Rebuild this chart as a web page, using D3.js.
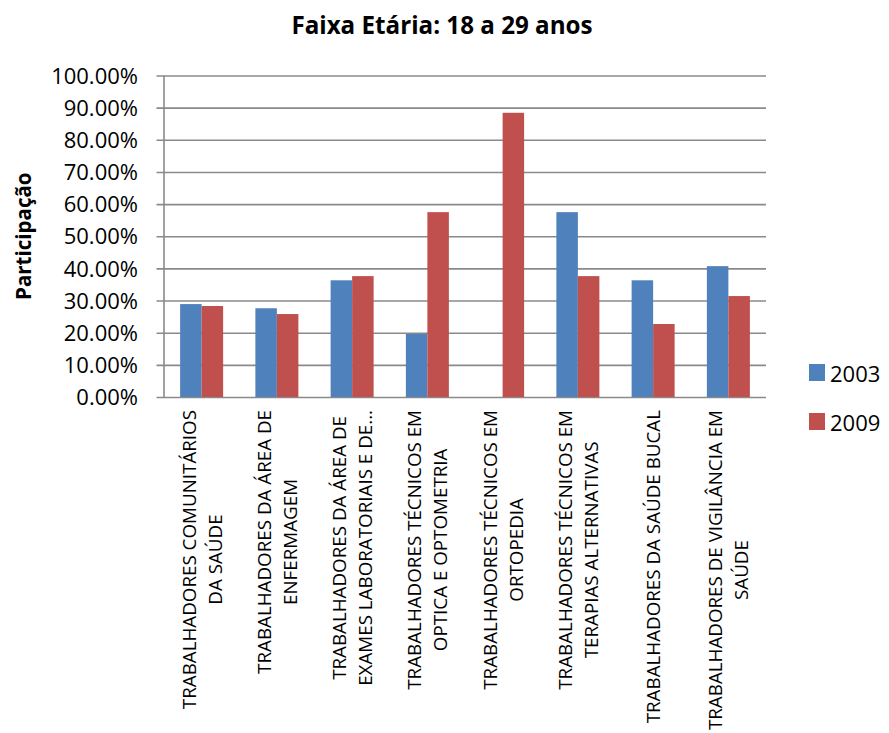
<!DOCTYPE html>
<html>
<head>
<meta charset="utf-8">
<script src="https://cdn.jsdelivr.net/npm/d3@7"></script>
<style>
  html, body { margin: 0; padding: 0; background: #fff; }
  svg { display: block; }
  text { font-family: "Open Sans", "Noto Sans", sans-serif; fill: #000; }
</style>
</head>
<body>
<svg id="chart" width="889" height="733"></svg>
<script>
const title = "Faixa Etária: 18 a 29 anos";
const yAxisTitle = "Participação";
const categories = [
  "TRABALHADORES COMUNITÁRIOS DA SAÚDE",
  "TRABALHADORES DA ÁREA DE ENFERMAGEM",
  "TRABALHADORES DA ÁREA DE EXAMES LABORATORIAIS E DE...",
  "TRABALHADORES TÉCNICOS EM OPTICA E OPTOMETRIA",
  "TRABALHADORES TÉCNICOS EM ORTOPEDIA",
  "TRABALHADORES TÉCNICOS EM TERAPIAS ALTERNATIVAS",
  "TRABALHADORES DA SAÚDE BUCAL",
  "TRABALHADORES DE VIGILÂNCIA EM SAÚDE"
];
const categoryLines = [
  ["TRABALHADORES COMUNITÁRIOS", "DA SAÚDE"],
  ["TRABALHADORES DA ÁREA DE", "ENFERMAGEM"],
  ["TRABALHADORES DA ÁREA DE", "EXAMES LABORATORIAIS E DE..."],
  ["TRABALHADORES TÉCNICOS EM", "OPTICA E OPTOMETRIA"],
  ["TRABALHADORES TÉCNICOS EM", "ORTOPEDIA"],
  ["TRABALHADORES TÉCNICOS EM", "TERAPIAS ALTERNATIVAS"],
  ["TRABALHADORES DA SAÚDE BUCAL"],
  ["TRABALHADORES DE VIGILÂNCIA EM", "SAÚDE"]
];
const seriesNames = ["2003", "2009"];
const values2003 = [0.289, 0.276, 0.363, 0.196, 0.0, 0.575, 0.363, 0.407];
const values2009 = [0.283, 0.258, 0.376, 0.575, 0.884, 0.376, 0.227, 0.314];
const yTicks = [0, 0.1, 0.2, 0.3, 0.4, 0.5, 0.6, 0.7, 0.8, 0.9, 1.0];
const colors = ["#4F81BD", "#C0504D"];

const seriesValues = [values2003, values2009];
const svg = d3.select("#chart");

const plot = { left: 164, right: 766, top: 75.5, bottom: 397 };

const x0 = d3.scaleBand().domain(categories).range([plot.left, plot.right]).padding(0);
const step = x0.bandwidth();
const x1 = d3.scaleBand().domain(seriesNames)
  .range([step * 0.75 / 3.5, step * (1 - 0.75 / 3.5)]).padding(0);
const y = d3.scaleLinear().domain([0, 1]).range([plot.bottom, plot.top]);
const color = d3.scaleOrdinal().domain(seriesNames).range(colors);

// gridlines + y axis ticks
const yAxis = d3.axisLeft(y).tickValues(yTicks).tickFormat(d3.format(".2%"))
  .tickSize(-(plot.right - plot.left)).tickPadding(0);
const gy = svg.append("g").attr("transform", `translate(${plot.left},0)`).call(yAxis);
gy.select(".domain").remove();
gy.selectAll(".tick line").attr("x1", -7.5).attr("stroke", "#8a8a8a").attr("stroke-width", 1.6);
gy.selectAll(".tick text").attr("x", -26).attr("font-size", 22)
  .attr("font-family", "'Open Sans', sans-serif").attr("fill", "#000").attr("dy", "0.35em");

// vertical axis line
svg.append("line").attr("x1", plot.left).attr("x2", plot.left)
  .attr("y1", plot.top).attr("y2", plot.bottom)
  .attr("stroke", "#8a8a8a").attr("stroke-width", 1.6);

// bars
const rows = categories.map((c, i) => ({ cat: c, vals: seriesNames.map((s, j) => ({ s, v: seriesValues[j][i] })) }));
const groups = svg.append("g").selectAll("g").data(rows).join("g")
  .attr("transform", d => `translate(${x0(d.cat)},0)`);
groups.selectAll("rect").data(d => d.vals).join("rect")
  .attr("x", d => x1(d.s))
  .attr("width", x1.bandwidth())
  .attr("y", d => y(d.v))
  .attr("height", d => y(0) - y(d.v))
  .attr("fill", d => color(d.s));

// category labels (rotated)
const labelTop = 410;
const lineGap = 26;
categories.forEach((c, i) => {
  const lines = categoryLines[i];
  const cx = x0(c) + step / 2;
  const g = svg.append("g");
  const texts = lines.map((ln, k) => {
    const off = (k - (lines.length - 1) / 2) * lineGap;
    return g.append("text").text(ln)
      .attr("font-size", 18.8)
      .attr("text-anchor", "middle")
      .attr("dominant-baseline", "central")
      .attr("data-x", cx + off);
  });
  const maxLen = d3.max(texts, t => t.node().getComputedTextLength());
  texts.forEach(t => {
    const tx = +t.attr("data-x");
    const ty = labelTop + maxLen / 2;
    t.attr("transform", `translate(${tx},${ty}) rotate(-90)`);
  });
});

// title
svg.append("text").attr("x", 442).attr("y", 34).attr("text-anchor", "middle")
  .attr("font-size", 24.2).attr("font-weight", "bold").text(title);

// y axis title
svg.append("text").attr("transform", `translate(23,${(plot.top + plot.bottom) / 2}) rotate(-90)`)
  .attr("text-anchor", "middle").attr("dominant-baseline", "central")
  .attr("font-size", 20.5).attr("font-weight", "bold").text(yAxisTitle);

// legend
const legend = svg.append("g").selectAll("g").data(seriesNames).join("g")
  .attr("transform", (d, i) => `translate(809,${364 + i * 49})`);
legend.append("rect").attr("width", 16).attr("height", 17).attr("fill", d => color(d));
legend.append("text").attr("x", 21).attr("y", 9).attr("dominant-baseline", "central")
  .attr("font-size", 22).text(d => d);
</script>
</body>
</html>
